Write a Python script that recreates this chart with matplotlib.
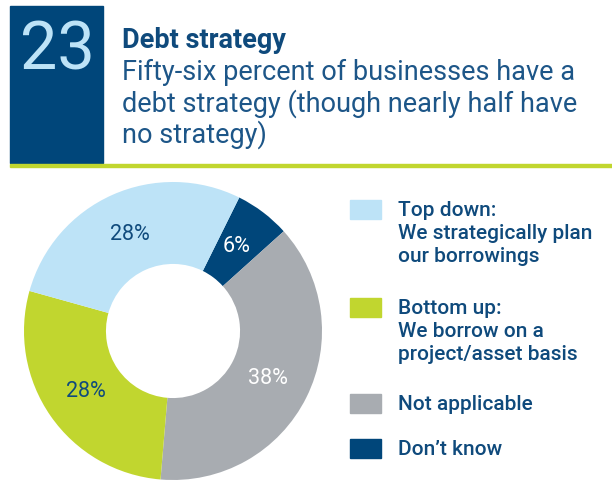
import matplotlib
matplotlib.use('Agg')
import matplotlib.pyplot as plt
from matplotlib.patches import Rectangle

plt.rcParams['font.family'] = ['Roboto', 'DejaVu Sans']

# data
labels = ["Don\u2019t know", "Not applicable", "Bottom up", "Top down"]
values = [6, 38, 28, 28]
colors = ['#00467a', '#a8acb1', '#c1d62f', '#bde3f7']
pct_colors = ['white', 'white', '#0f4a7c', '#0f4a7c']

legend_order = [3, 2, 1, 0]
legend_text = ["Top down:\nWe strategically plan\nour borrowings",
               "Bottom up:\nWe borrow on a\nproject/asset basis",
               "Not applicable",
               "Don\u2019t know"]

W, H = 612, 491
fig = plt.figure(figsize=(W / 100, H / 100), dpi=100)

def fx(x):
    return x / W

def fy(y):
    return 1 - y / H

navy = '#0f4a7c'

# header
fig.patches.append(Rectangle((fx(10), fy(163)), fx(93), 157 / H,
                             transform=fig.transFigure, color='#00467a', zorder=1))
fig.patches.append(Rectangle((fx(10), fy(167)), fx(602), 3 / H,
                             transform=fig.transFigure, color='#c1d62f', zorder=1))
fig.text(fx(57), fy(52), "23", fontsize=48, fontweight='normal', color='#bde3f7',
         ha='center', va='center')
fig.text(fx(122), fy(40), "Debt strategy", fontsize=19.5, fontweight='bold', color=navy,
         ha='left', va='center')
sub = ["Fifty-six percent of businesses have a",
       "debt strategy (though nearly half have",
       "no strategy)"]
for i, s in enumerate(sub):
    fig.text(fx(122), fy(72 + 31.5 * i), s, fontsize=19.5, color='#1d5688',
             ha='left', va='center')

# donut
cx, cy, R = 173, 331, 149
ax = fig.add_axes([fx(cx - R), fy(cy + R), 2 * R / W, 2 * R / H])
wedges, texts, autotexts = ax.pie(values, colors=colors, startangle=63.6,
                                  counterclock=False, radius=1,
                                  wedgeprops=dict(width=0.55, edgecolor='none'),
                                  autopct='%d%%', pctdistance=0.71,
                                  textprops=dict(fontsize=15.5))
for t, c in zip(autotexts, pct_colors):
    t.set_color(c)
ax.set_xlim(-1, 1)
ax.set_ylim(-1, 1)
ax.axis('off')

# legend
sq_y = [200, 298, 394, 439]
for k, idx in enumerate(legend_order):
    fig.patches.append(Rectangle((fx(350), fy(sq_y[k] + 19)), 31 / W, 19 / H,
                                 transform=fig.transFigure, color=colors[idx]))
    fig.text(fx(398), fy(sq_y[k] + 1), legend_text[k], fontsize=15,
             fontweight='medium', color=navy, ha='left', va='top',
             linespacing=1.27)

fig.savefig('out.png', dpi=100)
